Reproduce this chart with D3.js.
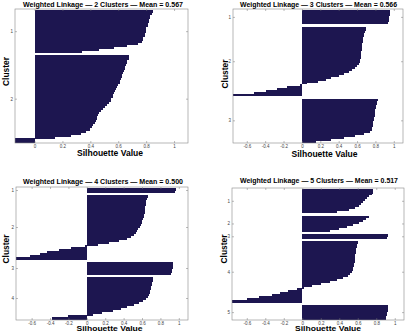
<!DOCTYPE html>
<html>
<head>
<meta charset="utf-8">
<script src="https://cdnjs.cloudflare.com/ajax/libs/d3/7.8.5/d3.min.js"></script>
<style>
body{margin:0;background:#fff;}
text{font-family:"Liberation Sans",Arial,sans-serif;}
</style>
</head>
<body>
<script>
var width=409,height=332;

// silhouette values, one array per cluster, top to bottom as plotted
var k2 = [
	[0.85,0.84,0.83,0.83,0.82,0.82,0.81,0.81,0.80,0.80,0.80,0.79,0.79,0.78,0.78,0.77,0.74,0.66,0.57,0.46,0.34],
	[0.68,0.675,0.665,0.66,0.655,0.65,0.645,0.64,0.635,0.63,0.625,0.62,0.615,0.61,0.6,0.59,0.585,0.58,0.57,0.565,0.56,0.55,0.545,0.535,0.52,0.505,0.49,0.475,0.465,0.455,0.45,0.445,0.44,0.43,0.42,0.41,0.395,0.37,0.33,0.26,0.15,-0.14,-0.14]
];
var k3 = [
	[0.96,0.96,0.955,0.95,0.95,0.945,0.94],
	[0.70,0.695,0.69,0.68,0.675,0.67,0.665,0.66,0.655,0.655,0.65,0.65,0.645,0.645,0.64,0.64,0.635,0.63,0.62,0.60,0.58,0.55,0.51,0.46,0.40,0.32,0.26,0.17,0.06,-0.02,-0.16,-0.27,-0.39,-0.52,-0.75],
	[0.83,0.82,0.815,0.81,0.805,0.80,0.80,0.795,0.79,0.785,0.78,0.775,0.77,0.77,0.765,0.76,0.74,0.68,0.58,0.46,0.32,0.15]
];
var k4 = [
	[0.97,0.96],
	[0.66,0.65,0.645,0.64,0.64,0.637,0.635,0.633,0.63,0.625,0.62,0.615,0.605,0.595,0.585,0.575,0.56,0.55,0.53,0.51,0.48,0.44,0.35,0.24,0.12,-0.02,-0.17,-0.30,-0.43,-0.51,-0.62,-0.77],
	[0.94,0.94,0.935,0.93,0.925,0.92],
	[0.72,0.715,0.71,0.705,0.70,0.695,0.69,0.685,0.675,0.66,0.64,0.61,0.57,0.51,0.44,0.37,0.28,0.17,0.07,-0.20,-0.38]
];
var k5 = [
	[0.77,0.76,0.75,0.72,0.70,0.68,0.66,0.64,0.61,0.57,0.50,0.38],
	[0.72,0.69,0.66,0.61,0.55,0.48,0.40,0.30],
	[0.93,0.92],
	[0.60,0.595,0.59,0.585,0.58,0.578,0.575,0.572,0.57,0.567,0.565,0.56,0.555,0.55,0.545,0.535,0.52,0.49,0.44,0.38,0.30,0.20,0.10,0.02,-0.06,-0.15,-0.24,-0.33,-0.47,-0.60,-0.76],
	[0.93,0.93,0.925,0.92,0.915,0.91,0.90]
];
var means = ["0.567","0.566","0.500","0.517"];
var ticksPos = [0,0.2,0.4,0.6,0.8,1];
var ticksWide = [-0.6,-0.4,-0.2,0,0.2,0.4,0.6,0.8,1];

var barColor = "#1d1650";
var pad = 0.5, gap = 1.5;

var panels = [
	{data:k2, mean:means[0], ticks:ticksPos,  xd:[-0.14,1.1], l:15,  r:188, t:9,   b:143, tx:103, ty:6.5,   tw:160, lx:110, ly:156, lf:8.5, cx:9,   cy:71.5},
	{data:k3, mean:means[1], ticks:ticksWide, xd:[-0.75,1.1], l:233, r:403, t:9,   b:143, tx:318.5, ty:6.7, tw:157, lx:324.5, ly:156.5, lf:8.5, cx:227.5, cy:74},
	{data:k4, mean:means[2], ticks:ticksWide, xd:[-0.77,1.1], l:16,  r:188, t:187, b:320, tx:103, ty:183.5, tw:160, lx:109.5, ly:331.3, lf:7.6, cx:9.3, cy:249},
	{data:k5, mean:means[3], ticks:ticksWide, xd:[-0.76,1.1], l:232, r:404, t:188, b:320, tx:319, ty:183.3, tw:158, lx:328, ly:331.3, lf:7.6, cx:227, cy:249}
];

var svg = d3.select("body")
	.append("svg")
	.attr("width", width)
	.attr("height", height);

panels.forEach(drawPanel);

function drawPanel(p){
	var g = svg.append("g");
	var x = d3.scaleLinear().domain(p.xd).range([p.l, p.r]);

	var rows = [], centers = [], pos = pad;
	p.data.forEach(function(c){
		var start = pos;
		c.forEach(function(v, j){ rows.push({v:v, y:pos+j}); });
		pos += c.length;
		centers.push((start+pos)/2);
		pos += gap;
	});
	var total = pos - gap + pad;
	var y = d3.scaleLinear().domain([0, total]).range([p.t, p.b]);
	var step = y(1) - y(0);

	g.append("g").attr("shape-rendering", "crispEdges")
		.selectAll("rect")
		.data(rows)
		.enter().append("rect")
		.attr("x", function(d){ return x(Math.min(0, d.v)); })
		.attr("y", function(d){ return y(d.y); })
		.attr("width", function(d){ return Math.abs(x(d.v) - x(0)); })
		.attr("height", step + 0.6)
		.attr("fill", barColor);

	// ticks on all four sides, pointing inward
	var fmt = function(d){ return String(d); };
	var bottom = g.append("g").attr("transform", "translate(0,"+p.b+")")
		.call(d3.axisBottom(x).tickValues(p.ticks).tickSizeInner(-2).tickSizeOuter(0).tickPadding(1.5).tickFormat(fmt));
	var top = g.append("g").attr("transform", "translate(0,"+p.t+")")
		.call(d3.axisTop(x).tickValues(p.ticks).tickSizeInner(-2).tickSizeOuter(0).tickFormat(""));
	var left = g.append("g").attr("transform", "translate("+p.l+",0)")
		.call(d3.axisLeft(y).tickValues(centers).tickSizeInner(-2).tickSizeOuter(0).tickPadding(2)
			.tickFormat(function(d, i){ return String(i+1); }));
	var right = g.append("g").attr("transform", "translate("+p.r+",0)")
		.call(d3.axisRight(y).tickValues(centers).tickSizeInner(-2).tickSizeOuter(0).tickFormat(""));

	[bottom, top, left, right].forEach(function(a){
		a.select(".domain").remove();
		a.selectAll("line").attr("stroke", "#777").attr("stroke-width", 0.5);
		a.selectAll("text").attr("font-size", 4.5).attr("fill", "#444")
			.attr("font-family", "'Liberation Sans',Arial,sans-serif");
	});

	g.append("rect")
		.attr("x", p.l).attr("y", p.t)
		.attr("width", p.r - p.l).attr("height", p.b - p.t)
		.attr("fill", "none").attr("stroke", "#888").attr("stroke-width", 0.6);

	g.append("text")
		.attr("x", p.tx).attr("y", p.ty)
		.attr("text-anchor", "middle")
		.attr("font-size", 7.5).attr("font-weight", "bold")
		.attr("textLength", p.tw).attr("lengthAdjust", "spacingAndGlyphs")
		.text("Weighted Linkage \u2014 " + p.data.length + " Clusters \u2014 Mean = " + p.mean);

	g.append("text")
		.attr("x", p.lx).attr("y", p.ly)
		.attr("text-anchor", "middle")
		.attr("font-size", p.lf).attr("font-weight", "bold")
		.attr("textLength", 66).attr("lengthAdjust", "spacingAndGlyphs")
		.text("Silhouette Value");

	g.append("text")
		.attr("transform", "translate("+p.cx+","+p.cy+") rotate(-90)")
		.attr("text-anchor", "middle")
		.attr("font-size", 8.5).attr("font-weight", "bold")
		.attr("textLength", 29).attr("lengthAdjust", "spacingAndGlyphs")
		.text("Cluster");
}
</script>
</body>
</html>
